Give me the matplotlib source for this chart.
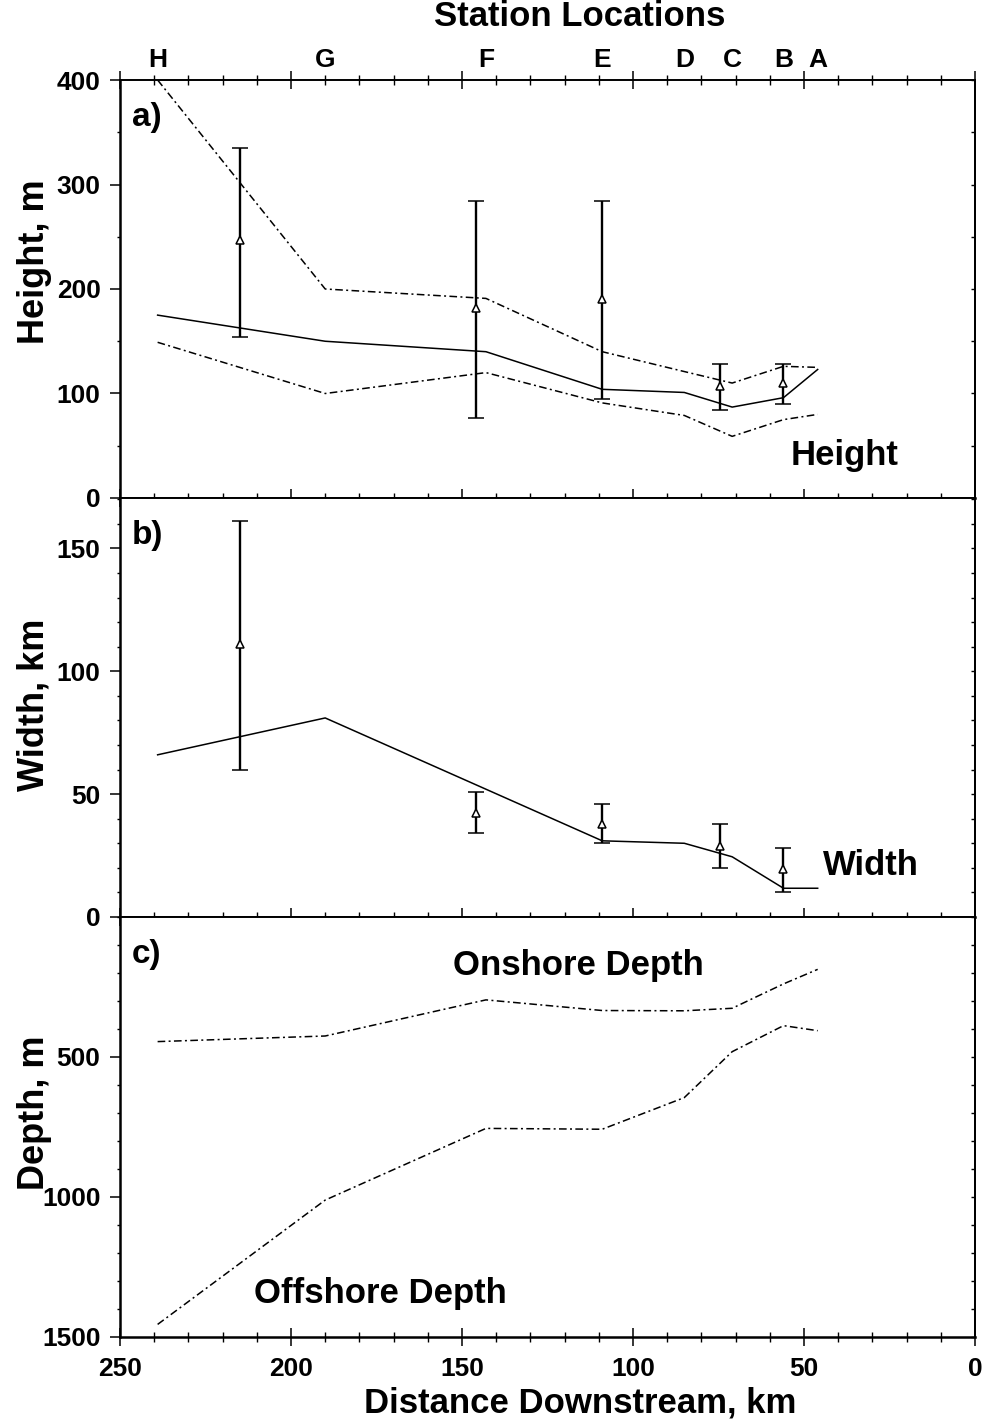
import matplotlib
matplotlib.use("Agg")
import matplotlib.pyplot as plt
import matplotlib.transforms as mtransforms
from matplotlib.ticker import MultipleLocator, FixedLocator

plt.rcParams['font.family'] = ['Liberation Sans', 'DejaVu Sans']
plt.rcParams['font.weight'] = 'bold'

# ---------------- data ----------------
stations = ['H', 'G', 'F', 'E', 'D', 'C', 'B', 'A']
station_km = [239, 190, 143, 109, 85, 71, 56, 46]

height_model = [175, 150, 140, 104, 101, 87, 96, 123]
height_upper = [400, 200, 191, 140, 121, 110, 126, 125]
height_lower = [149, 100, 120, 91, 79, 59, 75, 80]

obs_km = [215, 146, 109, 74.5, 56]
height_obs = [247, 182, 190, 107, 110]
height_hi = [335, 284, 284, 128, 128]
height_lo = [154, 77, 95, 84, 90]

width_model = [66, 81, 52, 31, 30, 24.5, 11.7, 11.7]
width_obs = [111, 42.5, 38, 29, 19.5]
width_hi = [161, 51, 46, 38, 28]
width_lo = [60, 34, 30, 20, 10]

onshore_depth = [445, 425, 296, 334, 335, 326, 239, 187]
offshore_depth = [1455, 1011, 755, 758, 645, 481, 388, 406]

# ---------------- figure ----------------
W, H = 986, 1422
fig = plt.figure(figsize=(W / 100, H / 100), dpi=100)

def fx(px):
    return px / W

def fy(py):
    return 1 - py / H

left, right = 120, 975
panels = [(80, 498), (498, 917), (917, 1337)]
axes = []
for (t, b) in panels:
    ax = fig.add_axes([fx(left), fy(b), fx(right - left), (b - t) / H])
    axes.append(ax)
axa, axb, axc = axes

dash = (5, 2.2, 1.3, 2.2)
lw_model = 1.1
TICK_FS = 19
LABEL_FS = 26
ANN_FS = 25

def style_axis(ax, xlabels=False):
    ax.set_xlim(250, 0)
    ax.xaxis.set_major_locator(MultipleLocator(50))
    ax.xaxis.set_minor_locator(MultipleLocator(10))
    ax.tick_params(axis='x', which='major', direction='inout', length=13, width=1.1,
                   top=False, bottom=True, labelbottom=xlabels, labelsize=TICK_FS, pad=8)
    ax.tick_params(axis='x', which='minor', direction='inout', length=7, width=1.0,
                   top=False, bottom=True)
    ax.tick_params(axis='y', which='major', direction='out', length=7, width=1.1,
                   left=True, right=False, labelsize=TICK_FS, pad=7)
    ax.tick_params(axis='y', which='minor', direction='out', length=2.5, width=1.0,
                   left=True, right=False)
    for s in ax.spines.values():
        s.set_linewidth(1.4)
    ax.spines['bottom'].set_linewidth(1.8)
    ax.spines['left'].set_linewidth(1.8)
    for lab in ax.get_xticklabels() + ax.get_yticklabels():
        lab.set_fontweight('bold')

def right_ticks(ax):
    # small inward ticks on the right frame
    sec = ax.secondary_yaxis('right')
    sec.yaxis.set_major_locator(ax.yaxis.get_major_locator())
    sec.yaxis.set_minor_locator(ax.yaxis.get_minor_locator())
    sec.tick_params(which='both', direction='in', length=3, width=1.0, labelright=False)
    sec.spines['right'].set_linewidth(1.4)

# ---------- panel a ----------
axa.plot(station_km, height_model, color='black', lw=lw_model)
axa.plot(station_km, height_upper, color='black', lw=lw_model, dashes=dash)
axa.plot(station_km, height_lower, color='black', lw=lw_model, dashes=dash)
yerr_a = [[o - l for o, l in zip(height_obs, height_lo)],
          [h - o for o, h in zip(height_obs, height_hi)]]
axa.errorbar(obs_km, height_obs, yerr=yerr_a, fmt='^', color='black', mfc='white',
             mec='black', ms=6, mew=1.1, elinewidth=1.7, capsize=5.5, capthick=1.7)
axa.set_ylim(0, 400)
axa.yaxis.set_major_locator(MultipleLocator(100))
axa.yaxis.set_minor_locator(MultipleLocator(50))
style_axis(axa)
axa.tick_params(axis='x', which='major', top=True)
axa.tick_params(axis='x', which='minor', top=True)
right_ticks(axa)
axa.set_ylabel('Height, m', fontsize=LABEL_FS, fontweight='bold')
axa.yaxis.set_label_coords(-0.08, 0.565)
axa.text(0.014, 0.948, 'a)', transform=axa.transAxes, fontsize=24, fontweight='bold',
         va='top', ha='left')
axa.text(38, 41, 'Height', fontsize=ANN_FS, fontweight='bold', ha='center', va='center')

trans = mtransforms.blended_transform_factory(axa.transData, axa.transAxes)
for s, k in zip(stations, station_km):
    axa.text(k, 1.048, s, transform=trans, fontsize=19, fontweight='bold',
             ha='center', va='center')

# ---------- panel b ----------
axb.plot(station_km, width_model, color='black', lw=lw_model)
yerr_b = [[o - l for o, l in zip(width_obs, width_lo)],
          [h - o for o, h in zip(width_obs, width_hi)]]
axb.errorbar(obs_km, width_obs, yerr=yerr_b, fmt='^', color='black', mfc='white',
             mec='black', ms=6, mew=1.1, elinewidth=1.7, capsize=5.5, capthick=1.7)
axb.set_ylim(0, 170.5)
axb.yaxis.set_major_locator(FixedLocator([0, 50, 100, 150]))
axb.yaxis.set_minor_locator(MultipleLocator(10))
style_axis(axb)
right_ticks(axb)
axb.set_ylabel('Width, km', fontsize=LABEL_FS, fontweight='bold')
axb.yaxis.set_label_coords(-0.08, 0.506)
axb.text(0.014, 0.948, 'b)', transform=axb.transAxes, fontsize=24, fontweight='bold',
         va='top', ha='left')
axb.text(30.5, 21, 'Width', fontsize=ANN_FS, fontweight='bold', ha='center', va='center')

# ---------- panel c ----------
axc.plot(station_km, onshore_depth, color='black', lw=lw_model, dashes=dash)
axc.plot(station_km, offshore_depth, color='black', lw=lw_model, dashes=dash)
axc.set_ylim(1500, 0)
axc.yaxis.set_major_locator(FixedLocator([500, 1000, 1500]))
axc.yaxis.set_minor_locator(MultipleLocator(100))
style_axis(axc, xlabels=True)
right_ticks(axc)
axc.set_ylabel('Depth, m', fontsize=LABEL_FS, fontweight='bold')
axc.yaxis.set_label_coords(-0.08, 0.535)
axc.text(0.014, 0.948, 'c)', transform=axc.transAxes, fontsize=24, fontweight='bold',
         va='top', ha='left')
axc.text(116, 175, 'Onshore Depth', fontsize=ANN_FS, fontweight='bold', ha='center', va='center')
axc.text(174, 1343, 'Offshore Depth', fontsize=ANN_FS, fontweight='bold', ha='center', va='center')
axc.set_xlabel('Distance Downstream, km', fontsize=25, fontweight='bold')
axc.xaxis.set_label_coords(0.538, -0.118)
for lab in axc.get_xticklabels():
    lab.set_fontweight('bold')

fig.text(fx(580), fy(17), 'Station Locations', fontsize=25, fontweight='bold',
         ha='center', va='center')

fig.savefig('out.png', dpi=100, facecolor='white')
